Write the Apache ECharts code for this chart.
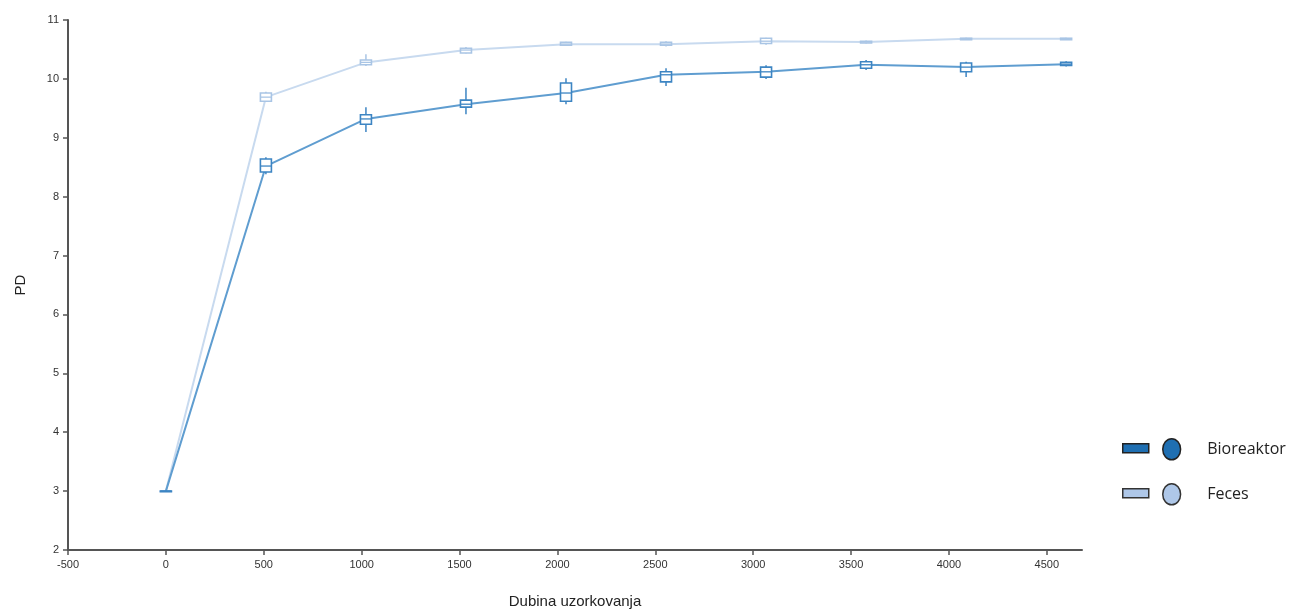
<!DOCTYPE html>
<html>
<head>
<meta charset="utf-8">
<script src="https://cdn.jsdelivr.net/npm/echarts@6/dist/echarts.min.js"></script>
<style>
html,body{margin:0;padding:0;background:#fff;}
#chart{width:1305px;height:611px;}
</style>
</head>
<body>
<div id="chart"></div>
<script>
// Sampling depths
const depth = [0, 511, 1022, 1533, 2044, 2555, 3066, 3577, 4088, 4599];
const xTicks = [-500, 0, 500, 1000, 1500, 2000, 2500, 3000, 3500, 4000, 4500];
const yTicks = [2, 3, 4, 5, 6, 7, 8, 9, 10, 11];

// Bioreaktor box statistics
const bioMin = [3, 8.38, 9.10, 9.40, 9.57, 9.88, 10.00, 10.15, 10.03, 10.21];
const bioQ1  = [3, 8.42, 9.23, 9.52, 9.62, 9.95, 10.03, 10.18, 10.12, 10.23];
const bioMed = [3, 8.52, 9.32, 9.57, 9.76, 10.07, 10.12, 10.24, 10.20, 10.25];
const bioQ3  = [3, 8.64, 9.39, 9.64, 9.93, 10.12, 10.20, 10.29, 10.27, 10.28];
const bioMax = [3, 8.67, 9.52, 9.85, 10.01, 10.18, 10.23, 10.32, 10.29, 10.30];

// Feces box statistics
const fecMin = [3, 9.61, 10.22, 10.43, 10.56, 10.55, 10.58, 10.60, 10.66, 10.66];
const fecQ1  = [3, 9.62, 10.24, 10.44, 10.57, 10.57, 10.60, 10.61, 10.665, 10.665];
const fecMed = [3, 9.69, 10.28, 10.49, 10.59, 10.59, 10.64, 10.625, 10.68, 10.68];
const fecQ3  = [3, 9.76, 10.32, 10.52, 10.62, 10.62, 10.69, 10.64, 10.69, 10.69];
const fecMax = [3, 9.78, 10.42, 10.54, 10.63, 10.64, 10.70, 10.65, 10.70, 10.70];

const seriesNames = ['Bioreaktor', 'Feces'];

const bioLine = '#5f9dd0', bioBox = '#3d85c3';
const fecLine = '#c8daef', fecBox = '#a9c5e5';

function rows(mn, q1, md, q3, mx) {
  return depth.map((d, i) => [d, mn[i], q1[i], md[i], q3[i], mx[i]]);
}
function boxRenderer(color) {
  return function (params, api) {
    const x = api.value(0);
    const pMin = api.coord([x, api.value(1)]);
    const pQ1 = api.coord([x, api.value(2)]);
    const pMed = api.coord([x, api.value(3)]);
    const pQ3 = api.coord([x, api.value(4)]);
    const pMax = api.coord([x, api.value(5)]);
    const w = 11;
    const cx = pMed[0];
    return {
      type: 'group',
      children: [
        { type: 'line', shape: { x1: cx, y1: pMax[1], x2: cx, y2: pMin[1] },
          style: { stroke: color, lineWidth: 1.5 } },
        { type: 'rect', shape: { x: cx - w / 2, y: pQ3[1], width: w, height: Math.max(pQ1[1] - pQ3[1], 0.5) },
          style: { fill: '#fff', stroke: color, lineWidth: 1.6 } },
        { type: 'line', shape: { x1: cx - w / 2, y1: pMed[1], x2: cx + w / 2, y2: pMed[1] },
          style: { stroke: color, lineWidth: 1.3 } }
      ]
    };
  };
}

const chart = echarts.init(document.getElementById('chart'), null, { renderer: 'canvas' });
const font = 'Liberation Sans, Arial, sans-serif';
chart.setOption({
  animation: false,
  backgroundColor: '#fff',
  grid: { left: 68, right: 223, top: 20, bottom: 61, containLabel: false, outerBoundsMode: 'none' },
  xAxis: {
    type: 'value', min: -500, max: 4680, interval: 500,
    name: 'Dubina uzorkovanja', nameLocation: 'middle', nameGap: 44,
    nameTextStyle: { fontSize: 15, color: '#222', fontFamily: font },
    axisLine: { show: true, onZero: false, lineStyle: { color: '#555', width: 2 } },
    axisTick: { show: true, length: 5, customValues: xTicks, lineStyle: { color: '#555', width: 1.5 } },
    axisLabel: { customValues: xTicks, formatter: function (v) { return String(v); },
      fontSize: 11, color: '#333', margin: 9, fontFamily: font },
    splitLine: { show: false }
  },
  yAxis: {
    type: 'value', min: 2, max: 11, interval: 1,
    name: 'PD', nameLocation: 'middle', nameGap: 40, nameRotate: 90,
    nameTextStyle: { fontSize: 15, color: '#222', fontFamily: font },
    axisLine: { show: true, onZero: false, lineStyle: { color: '#555', width: 2 } },
    axisTick: { show: true, length: 5, customValues: yTicks, lineStyle: { color: '#555', width: 1.5 } },
    axisLabel: { customValues: yTicks, formatter: function (v) { return String(v); },
      fontSize: 11, color: '#333', margin: 9, fontFamily: font },
    splitLine: { show: false }
  },
  legend: [
    {
      orient: 'vertical', left: 1117, top: 438, itemWidth: 26, itemHeight: 9, itemGap: 34.5,
      formatter: function () { return ''; },
      selectedMode: false,
      data: [
        { name: 'Bioreaktor', icon: 'rect', itemStyle: { color: '#1f6fb2', borderColor: '#222', borderWidth: 1.5 } },
        { name: 'Feces', icon: 'rect', itemStyle: { color: '#aec7e8', borderColor: '#333', borderWidth: 1.5 } }
      ]
    },
    {
      orient: 'vertical', left: 1157, top: 433, itemWidth: 19, itemHeight: 21, itemGap: 22.5,
      selectedMode: false,
      textStyle: { fontSize: 16, color: '#222', fontFamily: 'Open Sans, Liberation Sans, sans-serif', padding: [0, 0, 0, 21] },
      data: [
        { name: 'Bioreaktor', icon: 'path://M0,10 A8.5,10 0 1,0 17,10 A8.5,10 0 1,0 0,10 Z', itemStyle: { color: '#1f6fb2', borderColor: '#222', borderWidth: 1.5 } },
        { name: 'Feces', icon: 'path://M0,10 A8.5,10 0 1,0 17,10 A8.5,10 0 1,0 0,10 Z', itemStyle: { color: '#aec7e8', borderColor: '#333', borderWidth: 1.5 } }
      ]
    }
  ],
  series: [
    {
      name: seriesNames[1], type: 'line', z: 2,
      data: depth.map((d, i) => [d, fecMed[i]]),
      showSymbol: false, symbol: 'none',
      lineStyle: { color: fecLine, width: 2 }, itemStyle: { color: fecLine }
    },
    {
      name: seriesNames[1], type: 'custom', z: 3,
      data: rows(fecMin, fecQ1, fecMed, fecQ3, fecMax),
      encode: { x: 0, y: [1, 2, 3, 4, 5] },
      renderItem: boxRenderer(fecBox)
    },
    {
      name: seriesNames[0], type: 'line', z: 4,
      data: depth.map((d, i) => [d, bioMed[i]]),
      showSymbol: false, symbol: 'none',
      lineStyle: { color: bioLine, width: 2 }, itemStyle: { color: bioLine }
    },
    {
      name: seriesNames[0], type: 'custom', z: 5,
      data: rows(bioMin, bioQ1, bioMed, bioQ3, bioMax),
      encode: { x: 0, y: [1, 2, 3, 4, 5] },
      renderItem: boxRenderer(bioBox)
    }
  ]
});
</script>
</body>
</html>
